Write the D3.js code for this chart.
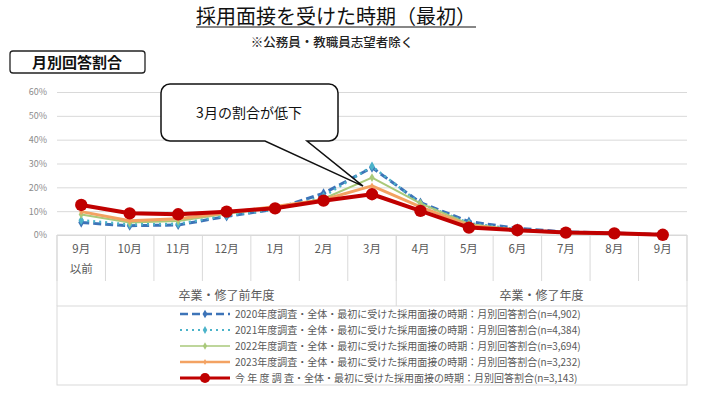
<!DOCTYPE html>
<html>
<head>
<meta charset="utf-8">
<script src="https://cdn.jsdelivr.net/npm/d3@7"></script>
<style>
  body { margin: 0; background: #fff; }
  svg text { font-family: "Noto Sans CJK JP", "Noto Sans", sans-serif; }
</style>
</head>
<body>
<div id="chart"></div>
<script>
// Data (percent)
const monthLabels = ["9月", "10月", "11月", "12月", "1月", "2月", "3月", "4月", "5月", "6月", "7月", "8月", "9月"];
const monthSubLabels = ["以前", "", "", "", "", "", "", "", "", "", "", "", ""];
const groupLabels = ["卒業・修了前年度", "卒業・修了年度"];
const groupSpans = [7, 6];
const yTicks = [0, 10, 20, 30, 40, 50, 60];

const s2020 = [5.2, 3.9, 4.2, 7.8, 10.8, 17.5, 28.3, 13.6, 5.6, 2.8, 1.3, 0.8, 0.2];
const s2021 = [6.2, 4.4, 4.7, 8.2, 10.6, 16.2, 28.8, 13.2, 5.0, 2.4, 1.2, 0.7, 0.2];
const s2022 = [8.6, 5.2, 5.9, 8.9, 11.4, 15.2, 24.1, 13.3, 4.6, 2.2, 1.0, 0.6, 0.1];
const s2023 = [9.8, 6.0, 6.8, 9.3, 12.0, 14.8, 20.6, 11.8, 4.0, 2.0, 0.9, 0.6, 0.1];
const sNow  = [12.6, 9.1, 8.7, 9.8, 11.2, 14.4, 17.1, 10.1, 3.1, 2.0, 1.0, 0.7, 0.1];

const seriesNames = [
  "2020年度調査・全体・最初に受けた採用面接の時期：月別回答割合(n=4,902)",
  "2021年度調査・全体・最初に受けた採用面接の時期：月別回答割合(n=4,384)",
  "2022年度調査・全体・最初に受けた採用面接の時期：月別回答割合(n=3,694)",
  "2023年度調査・全体・最初に受けた採用面接の時期：月別回答割合(n=3,232)",
  "今 年 度 調 査・全体・最初に受けた採用面接の時期：月別回答割合(n=3,143)"
];

// Line styles per series
const styles = [
  { color: "#3d74b8", width: 3,   dash: "8,4", marker: "diamond", size: 30, legendSize: 22 },
  { color: "#4bb3c9", width: 2.5, dash: "2,4", marker: "diamond", size: 26, legendSize: 18 },
  { color: "#a9c97a", width: 2,   dash: null,  marker: "diamond", size: 22, legendSize: 16 },
  { color: "#f3a262", width: 3,   dash: null,  marker: "diamond", size: 14, legendSize: 10 },
  { color: "#c00000", width: 4,   dash: null,  marker: "circle",  size: 120, legendSize: 80 }
];
const allSeries = [s2020, s2021, s2022, s2023, sNow];

const width = 704, height = 402;
const plotLeft = 57, plotRight = 687, plotTop = 92, plotBottom = 235;

const svg = d3.select("#chart").append("svg")
    .attr("width", width)
    .attr("height", height);

const x = d3.scaleBand()
    .domain(d3.range(monthLabels.length))
    .range([plotLeft, plotRight]);

const y = d3.scaleLinear()
    .domain([0, 60])
    .range([plotBottom, plotTop]);

// Title
const title = svg.append("text")
    .attr("x", 336).attr("y", 24)
    .attr("text-anchor", "middle")
    .attr("font-size", 20)
    .attr("fill", "#111")
    .text("採用面接を受けた時期（最初）");
const tw = title.node().getComputedTextLength();
svg.append("line")
    .attr("x1", 336 - tw / 2).attr("x2", 336 + tw / 2)
    .attr("y1", 27).attr("y2", 27)
    .attr("stroke", "#111").attr("stroke-width", 1.2);

svg.append("text")
    .attr("x", 332).attr("y", 47)
    .attr("text-anchor", "middle")
    .attr("font-size", 12.5)
    .attr("font-weight", 500)
    .attr("fill", "#222")
    .text("※公務員・教職員志望者除く");

// "月別回答割合" box
svg.append("rect")
    .attr("x", 10).attr("y", 51).attr("width", 135).attr("height", 22)
    .attr("rx", 3)
    .attr("fill", "#fff").attr("stroke", "#222").attr("stroke-width", 1.3);
svg.append("text")
    .attr("x", 77).attr("y", 67.5)
    .attr("text-anchor", "middle")
    .attr("font-size", 15)
    .attr("font-weight", 700)
    .attr("fill", "#111")
    .text("月別回答割合");

// Grid + y labels
const yAxis = d3.axisLeft(y)
    .tickValues(yTicks)
    .tickSize(-(plotRight - plotLeft))
    .tickPadding(10)
    .tickFormat(d => d + "%");
const gy = svg.append("g")
    .attr("transform", `translate(${plotLeft},0)`)
    .call(yAxis);
gy.select(".domain").remove();
gy.selectAll(".tick line").attr("stroke", "#d9d9d9").attr("stroke-width", 1);
gy.selectAll(".tick text")
    .attr("fill", "#8c8c8c")
    .attr("font-size", 9)
    .attr("font-family", "\"Noto Sans\", sans-serif");

// Multi-level category axis
const axisG = svg.append("g");
const boundaries = d3.range(monthLabels.length + 1).map(i =>
    i < monthLabels.length ? x(i) : x(i - 1) + x.bandwidth());
axisG.selectAll("line.mtick")
    .data(boundaries)
    .enter().append("line")
    .attr("x1", d => d).attr("x2", d => d)
    .attr("y1", plotBottom).attr("y2", 281)
    .attr("stroke", "#d9d9d9");

// group dividers
let acc = 0;
const groupEdges = [0];
groupSpans.forEach(s => { acc += s; groupEdges.push(acc); });
axisG.selectAll("line.gtick")
    .data(groupEdges)
    .enter().append("line")
    .attr("x1", i => boundaries[i]).attr("x2", i => boundaries[i])
    .attr("y1", plotBottom).attr("y2", 306)
    .attr("stroke", "#d9d9d9");

axisG.append("line")
    .attr("x1", plotLeft).attr("x2", plotRight)
    .attr("y1", plotBottom).attr("y2", plotBottom)
    .attr("stroke", "#d9d9d9");

axisG.selectAll("text.month")
    .data(monthLabels)
    .enter().append("text")
    .attr("x", (d, i) => x(i) + x.bandwidth() / 2)
    .attr("y", 253)
    .attr("text-anchor", "middle")
    .attr("font-size", 11.5)
    .attr("fill", "#595959")
    .text(d => d);
axisG.selectAll("text.sub")
    .data(monthSubLabels)
    .enter().append("text")
    .attr("x", (d, i) => x(i) + x.bandwidth() / 2)
    .attr("y", 273)
    .attr("text-anchor", "middle")
    .attr("font-size", 11.5)
    .attr("fill", "#595959")
    .text(d => d);
axisG.selectAll("text.group")
    .data(groupLabels)
    .enter().append("text")
    .attr("x", (d, i) => (boundaries[groupEdges[i]] + boundaries[groupEdges[i + 1]]) / 2)
    .attr("y", 300)
    .attr("text-anchor", "middle")
    .attr("font-size", 12)
    .attr("fill", "#595959")
    .text(d => d);

// Lines
const line = d3.line()
    .x((d, i) => x(i) + x.bandwidth() / 2)
    .y(d => y(d));

allSeries.forEach((data, k) => {
    const st = styles[k];
    const g = svg.append("g");
    g.append("path")
        .datum(data)
        .attr("d", line)
        .attr("fill", "none")
        .attr("stroke", st.color)
        .attr("stroke-width", st.width)
        .attr("stroke-dasharray", st.dash)
        .attr("stroke-linejoin", "round");
    const sym = d3.symbol()
        .type(st.marker === "circle" ? d3.symbolCircle : d3.symbolDiamond)
        .size(st.size);
    g.selectAll("path.m")
        .data(data)
        .enter().append("path")
        .attr("transform", (d, i) => `translate(${x(i) + x.bandwidth() / 2},${y(d)})`)
        .attr("d", sym)
        .attr("fill", st.color);
});

// Callout
const callout = d3.path();
const cx0 = 161, cx1 = 338, cy0 = 84, cy1 = 141, r = 9;
callout.moveTo(cx0 + r, cy0);
callout.lineTo(cx1 - r, cy0);
callout.arcTo(cx1, cy0, cx1, cy0 + r, r);
callout.lineTo(cx1, cy1 - r);
callout.arcTo(cx1, cy1, cx1 - r, cy1, r);
callout.lineTo(307, cy1);
callout.lineTo(x(6) + x.bandwidth() / 2 - 9, y(20.5));
callout.lineTo(265, cy1);
callout.lineTo(cx0 + r, cy1);
callout.arcTo(cx0, cy1, cx0, cy1 - r, r);
callout.lineTo(cx0, cy0 + r);
callout.arcTo(cx0, cy0, cx0 + r, cy0, r);
callout.closePath();
svg.append("path")
    .attr("d", callout.toString())
    .attr("fill", "#fff")
    .attr("stroke", "#111")
    .attr("stroke-width", 1.5);
svg.append("text")
    .attr("x", 249).attr("y", 118)
    .attr("text-anchor", "middle")
    .attr("font-size", 14)
    .attr("fill", "#111")
    .text("3月の割合が低下");

// Legend box
svg.append("rect")
    .attr("x", plotLeft).attr("y", 306)
    .attr("width", plotRight - plotLeft).attr("height", 79)
    .attr("fill", "none").attr("stroke", "#d9d9d9");

const legend = svg.append("g").selectAll("g")
    .data(seriesNames)
    .enter().append("g")
    .attr("transform", (d, i) => `translate(180,${314 + i * 16})`);
legend.append("line")
    .attr("x1", 0).attr("x2", 50)
    .attr("stroke", (d, i) => styles[i].color)
    .attr("stroke-width", (d, i) => styles[i].width * 0.8)
    .attr("stroke-dasharray", (d, i) => styles[i].dash);
legend.append("path")
    .attr("transform", "translate(25,0)")
    .attr("d", (d, i) => d3.symbol()
        .type(styles[i].marker === "circle" ? d3.symbolCircle : d3.symbolDiamond)
        .size(styles[i].legendSize)())
    .attr("fill", (d, i) => styles[i].color);
legend.append("text")
    .attr("x", 55).attr("y", 3.5)
    .attr("font-size", 10)
    .attr("fill", "#595959")
    .text(d => d);
</script>
</body>
</html>
